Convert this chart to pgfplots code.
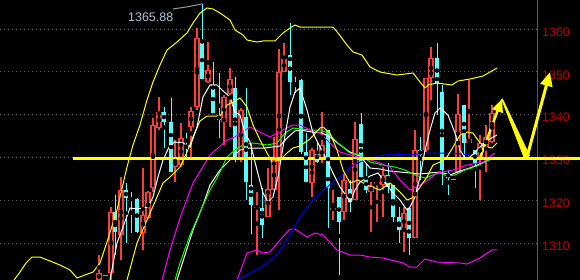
\documentclass[border=0pt]{standalone}
\usepackage{pgfplots}
\pgfplotsset{compat=1.18}
\usepackage{pgfplotstable}
\usepackage{fontspec}
\setmainfont{Liberation Sans}
\usetikzlibrary{arrows.meta}
\definecolor{cred}{RGB}{255,60,60}
\definecolor{ccyan}{RGB}{84,252,252}
\definecolor{labred}{RGB}{190,0,0}
\definecolor{gridg}{RGB}{90,90,90}
\definecolor{lblue}{RGB}{176,196,212}
\definecolor{myel}{RGB}{255,255,0}
\definecolor{mmag}{RGB}{255,0,255}
\definecolor{mgreen}{RGB}{0,255,0}
\definecolor{mblue}{RGB}{0,0,255}

% up (red, hollow) candles
\pgfplotstableread{
x o h l c
99 1301.4 1307.2 1301.4 1303.0
111 1303.0 1318.4 1301.4 1317.24
121 1312.0 1325.42 1306.03 1322.39
143 1312.34 1327.5 1308.37 1316.54
148 1315.84 1322.2 1315.6 1321.92
153 1322.85 1339.2 1321.92 1337.57
159 1336.87 1344.1 1336.4 1340.61
175 1327.76 1334.07 1324.25 1329.39
181 1328.2 1338.0 1327.8 1334.5
191 1337.1 1341.8 1329.4 1340.8
197 1341.78 1360.2 1341.08 1357.9
208 1347.6 1357.0 1347.4 1350.4
224 1338.3 1344.6 1332.9 1344.1
230 1344.8 1350.9 1337.1 1348.3
241 1329.4 1341.5 1328.9 1341.1
257 1318.2 1321.9 1307.2 1318.5
268 1316.1 1327.5 1316.1 1322.6
274 1322.4 1334.8 1322.4 1329.4
279 1329.4 1355.3 1317.7 1349.9
284 1349.95 1356.7 1349.95 1353.0
312 1324.0 1332.2 1320.7 1331.7
322 1329.4 1340.6 1328.7 1332.9
333 1317.7 1322.4 1315.4 1318.2
344 1317.2 1326.4 1315.4 1324.7
355 1320.05 1338.3 1320.05 1334.3
371 1321.9 1324.2 1312.6 1323.3
377 1323.9 1324.3 1314.9 1324.1
383 1323.5 1327.8 1316.1 1325.9
404 1313.0 1318.4 1307.9 1317.0
415 1311.2 1336.4 1311.2 1331.7
426 1331.7 1348.5 1331.2 1348.5
431 1348.5 1355.8 1343.4 1353.2
458 1326.6 1344.8 1326.4 1340.1
469 1333.4 1348.1 1333.4 1334.3
480 1329.9 1335.2 1320.05 1333.4
486 1332.4 1337.6 1326.6 1334.8
492 1333.6 1342.2 1333.4 1340.4
}\upc

% down (cyan, filled) candles
\pgfplotstableread{
x o h l c
115 1317.24 1321.22 1307.2 1312.57
126 1322.39 1324.02 1310.0 1320.52
131 1320.5 1321.9 1312.3 1320.0
137 1320.28 1320.5 1312.3 1312.57
164 1340.61 1341.78 1332.2 1338.27
171 1338.27 1343.88 1326.59 1326.59
186 1334.3 1335.7 1329.4 1333.6
202 1357.2 1365.88 1348.3 1348.3
213 1346.9 1352.3 1340.4 1340.4
219 1339.9 1349.7 1334.5 1338.7
235 1346.2 1348.8 1328.9 1329.4
246 1339.4 1346.2 1320.0 1324.2
251 1323.6 1333.4 1312.1 1318.9
262 1318.2 1322.9 1311.2 1314.2
290 1353.9 1361.4 1344.6 1347.6
295 1347.4 1348.8 1345.0 1346.9
301 1348.1 1348.3 1330.8 1331.3
306 1331.3 1335.7 1324.2 1324.2
317 1331.3 1333.6 1328.7 1328.9
328 1336.4 1336.4 1313.5 1322.8
339 1320.75 1320.75 1302.5 1314.9
350 1322.6 1324.7 1317.2 1319.6
361 1337.8 1340.4 1325.4 1325.4
366 1325.2 1328.7 1321.7 1322.4
388 1325.9 1328.7 1321.7 1323.1
393 1323.5 1323.5 1314.9 1316.1
399 1316.1 1318.4 1310.0 1313.0
409 1318.2 1318.2 1307.2 1311.2
420 1331.7 1334.8 1324.7 1330.6
437 1353.2 1356.7 1339.9 1347.4
442 1345.3 1346.9 1323.5 1327.1
448 1326.4 1327.1 1321.2 1325.2
464 1342.2 1342.2 1330.1 1333.4
475 1331.7 1331.7 1322.85 1328.7
}\dnc

\begin{document}
\begin{tikzpicture}
\fill[black] (0,0) rectangle (580bp,280bp);
\useasboundingbox (0,0) rectangle (580bp,280bp);
\begin{axis}[at={(0,0)}, anchor=south west, scale only axis,
  width=537bp, height=280bp,
  xmin=0, xmax=537, ymin=1301.36, ymax=1366.78,
  clip=false, axis line style={draw=none},
  xtick=\empty, major tick length=0pt,
  ytick={1310,1320,1330,1340,1350,1360},
  yticklabels={1310,1320,1330,1340,1350,1360},
  yticklabel pos=right, ytick style={draw=none},
  yticklabel style={anchor=west, inner sep=0pt, xshift=5bp, yshift=-3bp, text=labred, font=\fontsize{12.5}{13}\selectfont},
  ymajorgrids, grid style={gridg, dash pattern=on 1bp off 3bp, line width=0.8bp},
]
\draw[gridg, line width=0.8bp] (rel axis cs:1,0) -- (rel axis cs:1,1);

% ---- red candles
\addplot[only marks, mark=none, error bars/.cd, y dir=both, y explicit, error mark=none,
  error bar style={cred, line width=1.1bp}]
  table[x=x, y expr={(\thisrow{h}+\thisrow{l})/2}, y error expr={(\thisrow{h}-\thisrow{l})/2}] {\upc};
\addplot[only marks, mark=none, error bars/.cd, y dir=both, y explicit, error mark=none,
  error bar style={cred, line width=5.2bp}]
  table[x=x, y expr={(\thisrow{o}+\thisrow{c})/2}, y error expr={max(abs(\thisrow{c}-\thisrow{o})/2,0.15)}] {\upc};
\addplot[only marks, mark=none, error bars/.cd, y dir=both, y explicit, error mark=none,
  error bar style={black, line width=2.8bp}]
  table[x=x, y expr={(\thisrow{o}+\thisrow{c})/2}, y error expr={max(abs(\thisrow{c}-\thisrow{o})/2-0.26,0)}] {\upc};
% ---- cyan candles
\addplot[only marks, mark=none, error bars/.cd, y dir=both, y explicit, error mark=none,
  error bar style={ccyan, line width=1bp}]
  table[x=x, y expr={(\thisrow{h}+\thisrow{l})/2}, y error expr={(\thisrow{h}-\thisrow{l})/2}] {\dnc};
\addplot[only marks, mark=none, error bars/.cd, y dir=both, y explicit, error mark=none,
  error bar style={ccyan, line width=4.5bp}]
  table[x=x, y expr={(\thisrow{o}+\thisrow{c})/2}, y error expr={max(abs(\thisrow{c}-\thisrow{o})/2,0.12)}] {\dnc};
% flat candles
\addplot[only marks, mark=-, mark size=2.5bp, gray!80] coordinates {(105,1302.5) (453,1324.95)};

% ---- upper band (yellow)
\addplot[myel, line width=1bp] coordinates {
(14,1301.36) (20,1303.22) (26,1305.33) (32,1306.73) (40,1306.73) (50,1305.79) (60,1304.86) (70,1303.69)
(77,1301.82) (85,1302.53) (93,1303.22) (100,1305.33) (107,1310.23) (117,1317.71) (127,1327.76)
(133,1332.90) (140,1337.57) (147,1343.41) (153,1347.62) (160,1351.59) (167,1355.09) (177,1356.96)
(187,1359.07) (193,1361.40) (200,1363.74) (207,1364.91) (213,1364.67) (220,1363.74) (230,1362.10)
(235,1359.77) (243,1358.60) (247,1357.43) (257,1356.96) (263,1357.20) (275,1357.20) (283,1359.07)
(290,1360.23) (295,1360.93) (300,1360.47) (333,1360.47) (338,1359.07) (347,1356.26) (353,1354.63)
(362,1353.93) (370,1351.12) (380,1349.95) (397,1349.25) (413,1349.72) (420,1347.62) (425,1346.22)
(428,1346.92) (437,1347.38) (452,1346.92) (458,1347.85) (470,1348.32) (483,1349.02) (497,1350.89)};

% ---- lower band (magenta)
\addplot[mmag, line width=1bp] coordinates {
(237,1301.36) (247,1307.66) (257,1308.37) (262,1307.66) (270,1307.90) (280,1310.70) (290,1313.27)
(295,1313.27) (307,1311.40) (315,1312.34) (323,1311.87) (337,1308.37) (350,1307.20) (360,1307.20)
(370,1306.73) (383,1306.50) (403,1305.33) (410,1304.39) (417,1304.39) (425,1306.26) (437,1305.56)
(460,1305.33) (467,1305.09) (480,1306.50) (492,1308.37) (497,1308.37)};

% ---- blue MA
\addplot[mblue, line width=1bp] coordinates {
(237,1301.36) (260,1304.16) (277,1307.20) (290,1311.87) (300,1316.07) (313,1320.05) (327,1323.08)
(340,1325.42) (350,1327.76) (360,1328.93) (370,1329.86) (390,1330.79) (410,1330.56) (427,1331.03)
(450,1331.03) (470,1330.56) (478,1330.33)};

% ---- long white MA
\addplot[white, line width=1bp] coordinates {
(177,1301.36) (185,1307.20) (193,1313.04) (203,1318.88) (210,1323.55) (220,1327.06) (230,1329.39)
(240,1331.73) (250,1332.20) (265,1332.20) (280,1332.66) (287,1334.53) (295,1336.17) (300,1336.40)
(312,1335.94) (322,1335.70) (330,1334.77) (340,1332.90) (350,1331.26) (360,1330.33) (370,1327.52)
(380,1327.29) (390,1326.82) (400,1326.59) (410,1326.36) (420,1326.13) (430,1326.36) (440,1326.59)
(450,1325.89) (460,1326.82) (470,1327.52) (480,1328.46) (493,1329.86)};

% ---- green MA
\addplot[mgreen, line width=1bp] coordinates {
(175,1301.36) (180,1305.33) (190,1311.87) (200,1317.24) (210,1322.39) (217,1325.19) (227,1330.09)
(235,1331.73) (243,1332.90) (253,1333.37) (267,1332.90) (277,1333.37) (285,1335.70) (293,1336.87)
(310,1336.40) (320,1336.40) (328,1335.70) (338,1333.37) (350,1331.03) (360,1330.56) (370,1328.93)
(383,1328.22) (395,1327.76) (405,1327.06) (415,1325.89) (425,1325.19) (433,1325.89) (440,1326.36)
(447,1325.65) (455,1325.89) (465,1327.06) (475,1327.76) (485,1328.93) (493,1329.86)};

% ---- magenta MA
\addplot[mmag, line width=1bp] coordinates {
(162,1301.36) (170,1308.37) (180,1315.84) (193,1324.02) (210,1330.56) (227,1334.07) (233,1334.53)
(250,1337.10) (260,1335.94) (270,1334.77) (277,1335.70) (287,1336.87) (293,1337.57) (300,1337.57)
(310,1336.40) (320,1335.70) (330,1333.37) (340,1331.26) (350,1330.56) (360,1330.09) (370,1329.39)
(377,1328.93) (390,1327.76) (400,1324.72) (410,1322.39) (420,1323.55) (428,1324.72) (437,1326.36)
(453,1327.06) (467,1328.22) (483,1328.93) (495,1331.03)};

% ---- wiggly yellow MA
\addplot[myel, line width=1bp] coordinates {
(127,1301.36) (137,1310.00) (147,1315.38) (157,1320.75) (163,1324.02) (170,1325.42) (180,1327.76)
(187,1331.26) (193,1334.77) (200,1338.51) (207,1339.67) (220,1339.67) (227,1342.24) (235,1343.18)
(240,1343.88) (247,1341.78) (253,1337.57) (260,1334.07) (267,1331.03) (272,1328.93) (280,1329.39)
(287,1331.03) (293,1332.20) (300,1332.66) (310,1334.30) (320,1336.87) (323,1337.10) (330,1335.70)
(337,1331.73) (343,1327.06) (350,1324.02) (358,1324.72) (367,1323.55) (380,1322.39) (390,1324.02)
(400,1321.92) (407,1320.05) (412,1320.51) (420,1323.08) (427,1325.42) (433,1328.22) (440,1328.93)
(447,1330.09) (453,1332.43) (460,1335.23) (467,1335.94) (473,1335.70) (480,1333.37) (487,1332.43)
(492,1332.20) (497,1333.37)};

% ---- short white MA
\addplot[white, line width=1bp] coordinates {
(110,1301.36) (117,1310.00) (123,1313.74) (130,1318.18) (137,1317.94) (143,1318.18) (148,1318.41)
(153,1320.75) (158,1325.42) (163,1329.39) (170,1332.90) (175,1333.60) (183,1333.37) (190,1332.43)
(197,1337.10) (203,1344.11) (210,1346.92) (217,1346.92) (222,1345.75) (230,1344.11) (235,1340.61)
(240,1339.91) (245,1335.70) (250,1333.60) (257,1327.06) (263,1321.68) (268,1319.58) (273,1320.75)
(278,1325.42) (283,1332.43) (290,1341.78) (295,1345.28) (300,1346.22) (307,1341.08) (313,1335.70)
(320,1332.43) (327,1329.39) (333,1326.36) (340,1323.08) (347,1320.75) (350,1319.58) (355,1322.39)
(360,1324.25) (370,1325.65) (378,1326.36) (387,1323.55) (393,1321.68) (400,1320.05) (407,1317.71)
(410,1318.41) (415,1320.75) (420,1325.42) (425,1331.73) (430,1336.40) (435,1340.38) (440,1341.54)
(448,1339.91) (455,1335.70) (460,1331.73) (465,1329.86) (470,1330.09) (475,1331.26) (480,1332.43)
(488,1334.07) (497,1335.23)};

% ---- horizontal level
\addplot[myel, line width=3bp] coordinates {(73,1329.65) (580,1329.65)};

% ---- high marker
\addplot[gray!80, line width=1bp] coordinates {(173,1364.7) (188,1365.2) (202,1365.88)};
\node[text=lblue, font=\fontsize{12.5}{13}\selectfont, anchor=west, inner sep=0pt] at (axis cs:128,1362.69) {1365.88};

% ---- annotation arrows
\addplot[myel, line width=2.5bp, -{Triangle[length=13bp, width=11bp]}] coordinates {(480,1329.9) (502,1343.65)};
\addplot[fill=myel, draw=myel, line width=0.5bp] coordinates {(501.5,1343.6) (502.5,1343.69) (529.75,1330.37) (524.25,1329.81) (501.5,1343.6)};
\addplot[myel, line width=3bp, -{Triangle[length=14bp, width=12bp]}] coordinates {(527,1330.09) (550,1349.95)};
\end{axis}
\end{tikzpicture}
\end{document}
